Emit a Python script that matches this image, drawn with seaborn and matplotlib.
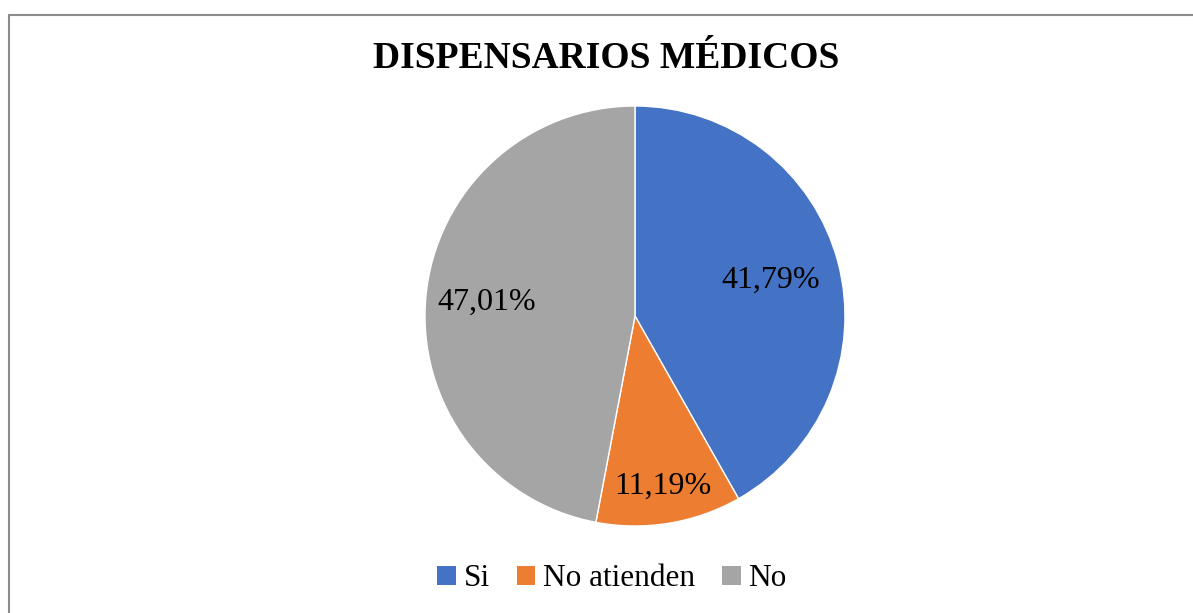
import matplotlib
matplotlib.use('Agg')
import numpy as np
import matplotlib.pyplot as plt
from matplotlib.lines import Line2D
from matplotlib.patches import Patch
import seaborn as sns

# data
categorias = ['Si', 'No atienden', 'No']
porcentajes = [41.79, 11.19, 47.01]
etiquetas = ['41,79%', '11,19%', '47,01%']
titulo = 'DISPENSARIOS MÉDICOS'

sns.set_theme(style='white')
plt.rcParams['font.family'] = ['Liberation Serif', 'DejaVu Serif']
plt.rcParams['text.color'] = 'black'

colores = sns.color_palette(['#4472C4', '#ED7D31', '#A5A5A5'])

fig = plt.figure(figsize=(11.93, 6.13), dpi=100)
W, H = 1193, 613

# pie axes: centre ~ (635, 316) px, radius ~ 210 px
ax = fig.add_axes([425 / W, (H - 526) / H, 420 / W, 420 / H])
wedges, _ = ax.pie(porcentajes, colors=colores, startangle=90, counterclock=False,
                   wedgeprops=dict(edgecolor='white', linewidth=1))
ax.set_xlim(-1, 1)
ax.set_ylim(-1, 1)
ax.set_aspect('equal')
ax.axis('off')

# label distance per slice (Excel "best fit" look)
dist = [0.67, 0.82, 0.71]
for w, lab, d in zip(wedges, etiquetas, dist):
    ang = np.deg2rad((w.theta1 + w.theta2) / 2)
    ax.text(d * np.cos(ang), d * np.sin(ang), lab, ha='center', va='center',
            fontsize=23, color='black')

fig.text(606 / W, 1 - 58 / H, titulo, ha='center', va='center',
         fontsize=27, fontweight='bold', color='black')

handles = [Patch(facecolor=c, edgecolor='none') for c in colores]
fig.legend(handles, categorias, loc='center', bbox_to_anchor=(612 / W, 1 - 579 / H),
           ncol=3, frameon=False, fontsize=22.5, handlelength=0.6, handleheight=0.6,
           handletextpad=0.25, columnspacing=0.85, labelcolor='black')

# chart border (top and left edges visible)
fig.add_artist(Line2D([9 / W, 9 / W], [0, 1 - 15 / H], color='#8c8c8c', lw=1.5))
fig.add_artist(Line2D([9 / W, 1], [1 - 15 / H, 1 - 15 / H], color='#8c8c8c', lw=1.5))

fig.savefig('out.png', dpi=100)
